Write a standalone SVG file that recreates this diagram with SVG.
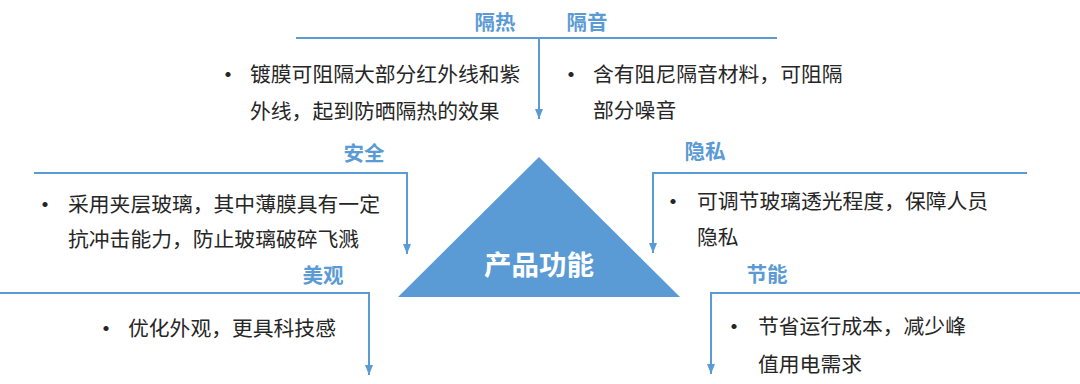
<svg xmlns="http://www.w3.org/2000/svg" width="1080" height="384" viewBox="0 0 1080 384">
<style>
  .t{font-family:"Noto Sans CJK SC","Noto Sans",sans-serif;font-size:20.8px;fill:#262626;dominant-baseline:central}
  .b{font-family:"Noto Sans CJK SC","Noto Sans",sans-serif;font-size:20px;font-weight:bold;fill:#262626;dominant-baseline:central;text-anchor:middle}
  .h{font-family:"Noto Sans CJK SC","Noto Sans",sans-serif;font-size:20.5px;font-weight:bold;fill:#5B9BD5;dominant-baseline:central;text-anchor:middle}
  .c{font-family:"Noto Sans CJK SC","Noto Sans",sans-serif;font-size:27.5px;font-weight:bold;fill:#FFFFFF;dominant-baseline:central;text-anchor:middle}
  .ln{fill:none;stroke:#5B9BD5;stroke-width:2}
</style>
<defs>
  <marker id="arr" markerUnits="userSpaceOnUse" markerWidth="10" markerHeight="10" viewBox="0 0 10 10" refX="10" refY="5" orient="auto">
    <path d="M0,1 L10,5 L0,9 Z" fill="#5B9BD5"/>
  </marker>
</defs>
<rect width="1080" height="384" fill="#FFFFFF"/>
<g id="connectors">
  <path class="ln" d="M296,38 H777"/>
  <path class="ln" d="M539,38 V119" marker-end="url(#arr)"/>
  <path class="ln" d="M34,173 H407 V254" marker-end="url(#arr)"/>
  <path class="ln" d="M0,293 H369 V375" marker-end="url(#arr)"/>
  <path class="ln" d="M1027,173 H653 V253" marker-end="url(#arr)"/>
  <path class="ln" d="M1080,293 H711 V374" marker-end="url(#arr)"/>
</g>
<g id="center">
  <polygon points="539,157 398,297 680,297" fill="#5B9BD5"/>
  <text class="c" x="539" y="263">产品功能</text>
</g>
<g id="heat">
  <text class="h" x="495" y="21">隔热</text>
  <text class="b" x="228" y="73">•</text>
  <text class="t" x="250" y="73">镀膜可阻隔大部分红外线和紫</text>
  <text class="t" x="250" y="110">外线，起到防晒隔热的效果</text>
</g>
<g id="sound">
  <text class="h" x="587" y="21">隔音</text>
  <text class="b" x="571" y="73">•</text>
  <text class="t" x="593" y="73">含有阻尼隔音材料，可阻隔</text>
  <text class="t" x="593" y="109">部分噪音</text>
</g>
<g id="safety">
  <text class="h" x="364" y="152">安全</text>
  <text class="b" x="45" y="203">•</text>
  <text class="t" x="68" y="203">采用夹层玻璃，其中薄膜具有一定</text>
  <text class="t" x="68" y="238">抗冲击能力，防止玻璃破碎飞溅</text>
</g>
<g id="privacy">
  <text class="h" x="705" y="150">隐私</text>
  <text class="b" x="673" y="200">•</text>
  <text class="t" x="697" y="200">可调节玻璃透光程度，保障人员</text>
  <text class="t" x="697" y="236">隐私</text>
</g>
<g id="beauty">
  <text class="h" x="323" y="274">美观</text>
  <text class="b" x="106" y="327">•</text>
  <text class="t" x="128" y="327">优化外观，更具科技感</text>
</g>
<g id="energy">
  <text class="h" x="767" y="273">节能</text>
  <text class="b" x="734" y="325">•</text>
  <text class="t" x="758" y="325">节省运行成本，减少峰</text>
  <text class="t" x="758" y="363">值用电需求</text>
</g>
</svg>
